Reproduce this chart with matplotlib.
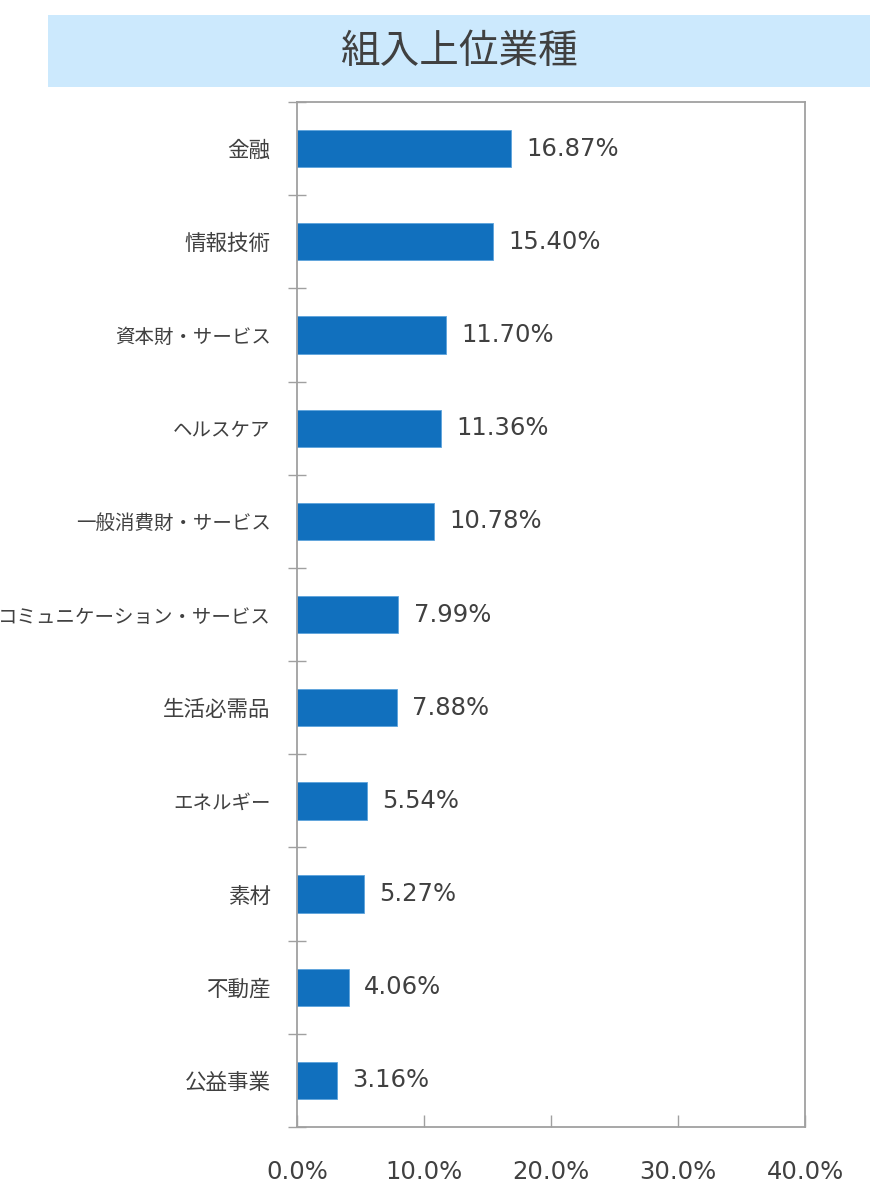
import numpy as np
import matplotlib.pyplot as plt
from matplotlib.patches import Rectangle
from matplotlib.ticker import FixedLocator

plt.rcParams['font.family'] = ['Noto Sans CJK JP', 'DejaVu Sans']

# data
sectors = ['金融', '情報技術', '資本財・サービス', 'ヘルスケア', '一般消費財・サービス',
           'コミュニケーション・サービス', '生活必需品', 'エネルギー', '素材', '不動産', '公益事業']
weights = [16.87, 15.40, 11.70, 11.36, 10.78, 7.99, 7.88, 5.54, 5.27, 4.06, 3.16]
xticks = [0, 10, 20, 30, 40]

text_col = '#404040'
spine_col = '#A0A0A0'
bar_col = '#1170BE'

fig = plt.figure(figsize=(8.8, 12), dpi=100)

# title box
bx0, bx1 = 48 / 880, 870 / 880
fig.patches.append(Rectangle((bx0, 1 - 87 / 1200), bx1 - bx0, (87 - 15) / 1200,
                             transform=fig.transFigure, facecolor='#CCE9FD', edgecolor='none'))
fig.text((bx0 + bx1) / 2, 1 - 52 / 1200, '組入上位業種', ha='center', va='center',
         fontsize=28.5, color=text_col)

ax = fig.add_axes([297 / 880, 1 - 1127 / 1200, (805 - 297) / 880, (1127 - 102) / 1200])

y = np.arange(len(sectors))
ax.barh(y, weights, height=0.4, color=bar_col, edgecolor='#5DA3DC', linewidth=0.6)
for yi, w in zip(y, weights):
    ax.text(w + 1.2, yi, f'{w:.2f}%', va='center', ha='left',
            fontsize=17.5, color=text_col, family='DejaVu Sans')

ax.set_ylim(len(sectors) - 0.5, -0.5)
ax.set_xlim(0, 40)
ax.set_yticks(y)
ax.set_yticklabels(sectors, color=text_col)
# kana is narrow in the original font, keep the long kana labels inside the figure
for lab in ax.get_yticklabels():
    has_kana = any('\u30a0' <= c <= '\u30ff' for c in lab.get_text())
    lab.set_fontsize(14 if has_kana else 15.5)
ax.tick_params(axis='y', which='major', length=0, pad=19)
ax.yaxis.set_minor_locator(FixedLocator(np.arange(-0.5, len(sectors), 1.0)))
ax.tick_params(axis='y', which='minor', direction='inout', length=13, width=1, color=spine_col)

ax.set_xticks(xticks)
ax.set_xticklabels([f'{v:.1f}%' for v in xticks], fontsize=17.5, color=text_col,
                   family='DejaVu Sans')
ax.tick_params(axis='x', direction='in', length=9, width=1, color=spine_col, pad=24)

for s in ax.spines.values():
    s.set_color(spine_col)
    s.set_linewidth(1.3)

fig.savefig('out.png', dpi=100)
